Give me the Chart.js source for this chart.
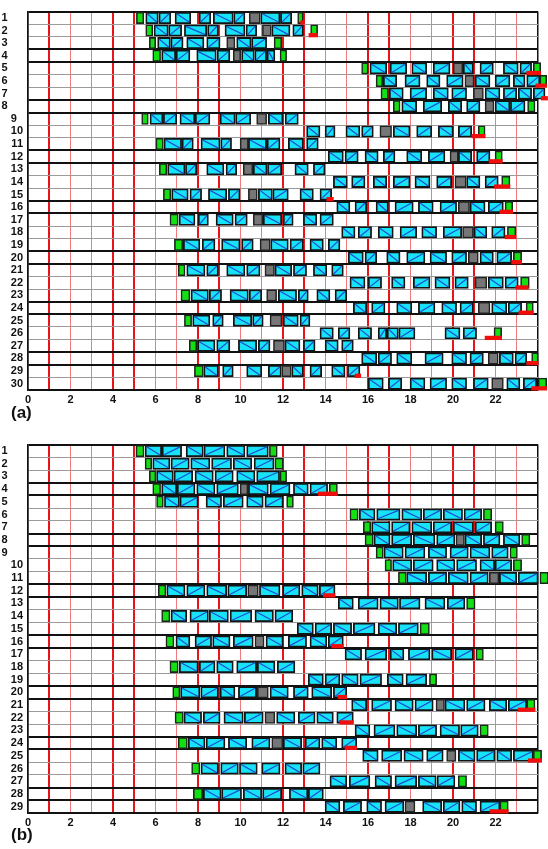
<!DOCTYPE html>
<html><head><meta charset="utf-8">
<script src="https://cdn.jsdelivr.net/npm/chart.js@4/dist/chart.umd.min.js"></script>
<style>
html,body{margin:0;padding:0;background:#fff;}
#wrap{position:relative;width:548px;height:849px;overflow:hidden;background:#fff;}
canvas{position:absolute;left:0;}
.lab{position:absolute;left:11px;font:bold 17px "Liberation Sans",Arial,sans-serif;color:#111;line-height:18px;}
</style></head><body>
<div id="wrap">
<canvas id="ca" width="548" height="408" style="top:0"></canvas>
<canvas id="cb" width="548" height="398" style="top:433px"></canvas>
<div class="lab" style="top:404px">(a)</div>
<div class="lab" style="top:826px">(b)</div>
</div>
<script>
// ---------- tick labels ----------
const rowLabelsA = ['1','2','3','4','5','6','7','8','9','10','11','12','13','14','15','16','17','18','19','20','21','22','23','24','25','26','27','28','29','30'];
const rowLabelsB = ['1','2','3','4','5','6','7','8','9','10','11','12','13','14','15','16','17','18','19','20','21','22','23','24','25','26','27','28','29'];
const xTickLabels = ['0','2','4','6','8','10','12','14','16','18','20','22'];

// ---------- panel (a): per row, pairs of [start, end] ----------
const cyanA = [
 [5.54,6.13, 6.16,6.72, 6.92,7.66, 8.05,8.6, 8.72,9.66, 9.68,10.21, 10.95,11.86, 11.88,12.41],
 [5.93,6.6, 6.62,7.23, 7.36,8.41, 8.45,8.96, 9.27,10.21, 10.26,10.76, 11.47,12.33, 12.46,12.96],
 [6.1,6.7, 6.72,7.3, 7.47,8.28, 8.41,9.04, 9.82,10.5, 10.52,11.23],
 [6.29,6.95, 6.97,7.62, 7.94,8.86, 8.9,9.5, 10.05,10.65, 10.67,11.23, 11.25,11.62],
 [16.09,16.88, 17.04,17.82, 18.06,18.76, 19.07,19.86, 20.48,20.96, 21.27,21.9, 22.37,23.07, 23.15,23.7],
 [16.72,17.35, 17.74,18.45, 18.76,19.39, 19.7,20.48, 21.04,21.74, 21.98,22.68, 22.84,23.39, 23.47,24.09],
 [17.0,17.66, 17.98,18.76, 19.07,19.78, 19.94,20.64, 21.51,22.21, 22.37,23.0, 23.07,23.7, 23.78,24.33],
 [17.59,18.29, 18.6,19.47, 19.78,20.41, 20.64,21.27, 21.98,22.68, 22.7,23.39],
 [5.74,6.35, 6.37,7.0, 7.15,7.85, 7.87,8.56, 9.04,9.75, 9.77,10.48, 11.31,12.0, 12.1,12.72],
 [13.11,13.74, 13.98,14.45, 14.96,15.62, 15.7,16.25, 17.19,17.98, 18.29,19.0, 19.31,20.01, 20.25,20.88],
 [6.4,7.23, 7.25,7.78, 8.14,9.04, 9.07,9.58, 10.37,11.23, 11.25,11.86, 12.25,12.96, 13.11,13.66],
 [14.13,14.84, 14.92,15.54, 15.86,16.48, 16.72,17.27, 17.82,18.53, 18.84,19.62, 20.25,20.88, 21.11,21.74],
 [6.57,7.39, 7.41,7.94, 8.41,9.22, 9.32,9.82, 10.6,11.25, 11.27,11.94, 12.56,13.19, 13.43,13.98],
 [14.37,15.03, 15.23,15.86, 16.25,16.88, 17.19,17.98, 18.21,18.92, 19.23,19.94, 20.64,21.27, 21.51,22.13],
 [6.76,7.54, 7.62,8.17, 8.49,9.35, 9.43,9.98, 10.84,11.5, 11.52,12.25, 12.8,13.43, 13.74,14.29],
 [14.53,15.15, 15.39,15.94, 16.38,16.96, 17.27,18.13, 18.37,19.07, 19.39,20.17, 20.8,21.51, 21.66,22.37],
 [7.11,7.86, 8.01,8.49, 8.85,9.66, 9.74,10.32, 11.07,11.94, 12.01,12.48, 12.96,13.59, 13.74,14.37],
 [14.76,15.39, 15.54,16.17, 16.48,17.19, 17.51,18.29, 18.53,19.23, 19.54,20.41, 20.99,21.59, 21.82,22.45],
 [7.31,8.09, 8.2,8.8, 9.11,9.98, 10.05,10.6, 11.42,12.25, 12.33,12.96, 13.27,13.9, 14.13,14.68],
 [15.07,15.78, 15.86,16.41, 16.88,17.51, 17.82,18.68, 18.92,19.7, 19.94,20.64, 21.27,21.9, 22.06,22.76],
 [7.47,8.33, 8.41,8.96, 9.35,10.21, 10.29,10.92, 11.62,12.41, 12.49,13.11, 13.43,14.06, 14.29,14.84],
 [15.15,15.86, 16.01,16.64, 17.11,17.74, 18.13,18.92, 19.15,19.86, 20.09,20.72, 21.66,22.37, 22.45,23.07],
 [7.67,8.49, 8.53,9.11, 9.51,10.37, 10.41,11.0, 11.78,12.64, 12.72,13.19, 13.59,14.21, 14.45,15.0],
 [15.31,15.94, 16.17,16.8, 17.35,18.06, 18.37,19.15, 19.47,20.17, 20.33,20.96, 21.82,22.53, 22.6,23.23],
 [7.75,8.56, 8.69,9.19, 9.66,10.53, 10.57,11.07, 12.01,12.72, 12.8,13.27],
 [13.74,14.37, 14.6,15.15, 15.54,16.17, 16.48,16.88, 16.9,17.43, 17.45,18.21, 19.62,20.33, 20.48,21.11],
 [7.98,8.8, 8.88,9.5, 9.9,10.76, 10.84,11.39, 12.09,12.8, 12.96,13.51, 13.98,14.6, 14.76,15.31],
 [15.7,16.41, 16.48,17.11, 17.35,18.06, 18.68,19.54, 19.94,20.64, 20.8,21.43, 22.18,22.84, 22.92,23.47],
 [8.27,8.96, 9.16,9.66, 10.29,11.0, 11.31,11.92, 12.41,12.96, 13.27,13.82, 14.29,14.92, 15.03,15.62],
 [16.01,16.72, 16.96,17.59, 17.98,18.68, 18.92,19.7, 19.94,20.64, 20.96,21.66, 22.53,23.15, 23.31,23.94]
];
const grayA = [
 [10.41,10.93],[11.03,11.45],[9.35,9.74],[9.66,10.01],[20.01,20.46],[20.56,20.99],[20.96,21.43],[21.51,21.93],
 [10.76,11.23],[16.56,17.11],[9.98,10.37],[19.86,20.25],[10.13,10.58],[20.09,20.62],[10.37,10.79],[20.25,20.78],
 [10.6,11.05],[20.45,20.96],[10.92,11.4],[20.72,21.19],[11.15,11.6],[21.04,21.59],[11.23,11.7],[21.19,21.74],
 [11.39,11.95],[],[11.55,12.07],[21.66,22.13],[11.94,12.39],[21.82,22.37]
];
const greenA = [
 [5.1,5.45, 12.69,12.95],[5.54,5.87, 13.3,13.63],[5.71,6.01, 11.58,11.94],[5.87,6.24, 11.86,12.17],
 [15.7,16.01, 23.78,24.13],[16.38,16.69, 24.09,24.41],[16.61,16.96],[17.19,17.51, 23.51,23.86],
 [5.35,5.66],[21.19,21.51],[6.02,6.37],[21.98,22.32],[6.18,6.53],[22.29,22.68],[6.37,6.72],[22.45,22.81],
 [6.68,7.07],[22.56,22.96],[6.89,7.28],[22.84,23.23],[7.07,7.39],[23.18,23.59],[7.2,7.62],[23.44,23.78],
 [7.36,7.7],[21.93,22.29],[7.59,7.94],[23.7,24.01],[7.83,8.25],[24.01,24.41]
];
const redA = [
 [12.83,13.0],[13.22,13.63],[],[],[23.47,24.13],[23.9,24.41],[24.15,24.45],[],
 [],[20.88,21.51],[],[21.7,22.32],[],[21.95,22.68],[14.06,14.37],[22.2,22.81],
 [],[22.45,22.96],[],[22.76,23.23],[],[22.96,23.54],[],[23.1,23.78],
 [],[21.51,22.29],[],[23.47,24.01],[15.39,15.66],[23.7,24.41]
];

// ---------- panel (b) ----------
const cyanB = [
 [5.51,6.29, 6.31,7.23, 7.44,8.25, 8.28,9.27, 9.35,10.21, 10.29,11.31],
 [5.87,6.68, 6.73,7.59, 7.66,8.56, 8.64,9.58, 9.66,10.53, 10.64,11.58],
 [6.05,6.84, 6.87,7.75, 7.86,8.72, 8.8,9.66, 9.82,10.68, 10.76,11.84],
 [6.29,7.0, 7.02,7.86, 7.94,8.8, 8.88,9.9, 10.37,11.31, 11.39,12.33, 12.49,13.19, 13.27,14.1],
 [6.42,7.13, 7.15,8.01, 8.38,9.11, 9.19,10.13, 10.29,11.07, 11.15,12.01],
 [15.59,16.33, 16.41,17.51, 17.59,18.53, 18.6,19.47, 19.54,20.45, 20.52,21.35],
 [16.17,17.04, 17.11,17.98, 18.06,19.0, 19.07,19.94, 20.01,20.96, 21.04,21.82],
 [16.28,17.04, 17.11,18.06, 18.13,19.15, 19.23,20.09, 20.56,21.35, 21.43,22.21, 22.37,23.15],
 [16.75,17.66, 17.74,18.68, 18.84,19.7, 19.86,20.72, 20.8,21.74, 21.82,22.6],
 [17.16,18.06, 18.13,19.07, 19.23,20.09, 20.17,21.11, 21.27,21.96, 21.98,22.76],
 [17.82,18.76, 18.84,19.7, 19.78,20.72, 20.8,21.66, 22.18,23.0, 23.07,24.01],
 [6.53,7.39, 7.47,8.33, 8.41,9.35, 9.4,10.29, 10.89,11.86, 11.98,12.8, 12.88,13.66, 13.71,14.45],
 [14.6,15.31, 15.54,16.48, 16.56,17.43, 17.48,18.45, 18.68,19.62, 19.73,20.56],
 [6.73,7.47, 7.62,8.49, 8.53,9.43, 9.51,10.53, 10.68,11.55, 11.62,12.46],
 [12.67,13.43, 13.51,14.29, 14.37,15.23, 15.31,16.33, 16.48,17.35, 17.43,18.37],
 [6.96,7.62, 7.86,8.64, 8.69,9.51, 9.66,10.6, 11.2,12.01, 12.25,13.11, 13.27,14.06, 14.13,14.84],
 [14.92,15.7, 15.86,16.88, 17.04,17.69, 17.9,18.92, 19.0,19.94, 20.09,20.96],
 [7.12,8.01, 8.06,8.8, 8.88,9.66, 9.82,10.76, 10.79,11.62, 11.73,12.56],
 [13.19,13.9, 13.98,14.68, 14.76,15.54, 15.62,16.64, 16.91,17.66, 17.79,18.76],
 [7.18,8.09, 8.13,8.96, 9.04,9.74, 9.9,10.76, 11.39,12.25, 12.49,13.19, 13.35,14.29, 14.37,15.0],
 [15.23,15.94, 16.17,17.11, 17.27,18.13, 18.21,19.07, 19.62,20.56, 20.64,21.51, 21.71,22.53, 22.6,23.47],
 [7.34,8.17, 8.25,9.04, 9.22,10.13, 10.18,11.07, 11.7,12.56, 12.72,13.51, 13.59,14.37, 14.53,15.31],
 [15.39,16.09, 16.28,17.27, 17.35,18.29, 18.37,19.23, 19.39,20.31, 20.36,21.19],
 [7.54,8.33, 8.38,9.27, 9.43,10.29, 10.53,11.39, 12.01,12.88, 13.04,13.74, 13.82,14.53, 14.76,15.47],
 [15.75,16.48, 16.64,17.59, 17.69,18.6, 18.76,19.54, 20.25,21.04, 21.11,21.98, 22.06,22.76, 22.84,23.78],
 [8.14,8.96, 9.07,9.9, 9.95,10.79, 11.0,11.86, 12.09,12.88, 12.93,13.74],
 [14.21,15.0, 15.12,16.09, 16.33,17.11, 17.27,18.29, 18.37,19.21, 19.25,20.09],
 [8.25,9.09, 9.11,10.05, 10.13,11.0, 11.04,11.94, 12.3,13.17, 13.19,13.9],
 [13.98,14.68, 14.84,15.7, 15.94,16.64, 16.8,17.69, 18.57,19.47, 19.54,20.33, 20.41,21.11, 21.27,22.21]
];
const grayB = [
 [],[],[],[9.98,10.35],[],[],[],[20.14,20.54],[],[],[21.71,22.16],[10.34,10.84],[],[],[],
 [10.68,11.11],[],[],[],[10.79,11.31],[19.2,19.6],[11.15,11.62],[],[11.47,11.99],[19.7,20.14],[],[],[],[17.74,18.21]
];
const greenB = [
 [5.08,5.46, 11.36,11.73],[5.51,5.82, 11.62,12.01],[5.71,6.02, 11.86,12.17],[5.87,6.24, 14.18,14.56],
 [6.05,6.37, 12.17,12.49],[15.15,15.54, 21.43,21.82],[15.78,16.13, 21.98,22.37],[15.86,16.25, 23.23,23.62],
 [16.38,16.72, 22.68,23.03],[16.8,17.11, 22.84,23.23],[17.43,17.8, 24.09,24.48],
 [6.13,6.49],[20.64,21.04],[6.29,6.68],[18.45,18.89],[6.49,6.87],[21.08,21.43],[6.68,7.07],[18.89,19.23],
 [6.81,7.15],[23.47,23.86],[6.92,7.31],[21.27,21.66],[7.07,7.5],[23.78,24.17],[7.7,8.09],[20.25,20.64],
 [7.78,8.22],[22.21,22.6]
];
const redB = [
 [],[],[],[13.66,14.56],[],[],[],[],[],[],[],[13.9,14.45],[],[],[],[14.29,14.84],[],[],[],
 [14.59,15.0],[23.07,23.86],[14.68,15.31],[],[14.92,15.47],[23.54,24.17],[],[],[],[21.74,22.6]
];

// ---------- drawing ----------
const FONT = '"Liberation Sans", Arial, sans-serif';
Chart.defaults.font.family = FONT;

function pairs(rows, yFn) {
  const out = [];
  rows.forEach((arr, r) => {
    for (let i = 0; i + 1 < arr.length; i += 2) out.push({x: [arr[i], arr[i + 1]], y: yFn(r), d: (i / 2) % 2});
  });
  return out;
}

const diagPlugin = {
  id: 'diag',
  afterDatasetDraw(chart, args) {
    const ds = chart.data.datasets[args.index];
    if (!ds.diag) return;
    const ctx = chart.ctx;
    ctx.save();
    ctx.strokeStyle = '#1a4fd2';
    ctx.lineWidth = 1.2;
    args.meta.data.forEach((el, j) => {
      const p = el.getProps(['x', 'y', 'base', 'height'], true);
      const l = Math.min(p.x, p.base) + 1.6, r = Math.max(p.x, p.base) - 1.6;
      const t = p.y - p.height / 2 + 1.6, b = p.y + p.height / 2 - 1.6;
      ctx.beginPath();
      if (ds.data[j].d === 0) { ctx.moveTo(l, t); ctx.lineTo(r, b); }
      else { ctx.moveTo(l, b); ctx.lineTo(r, t); }
      ctx.stroke();
    });
    ctx.restore();
  }
};

function thickX(v) { return v === 1 || v % 4 === 0 || v % 4 === 1; }
function thickY(i) { return i === undefined || i === 0 || i % 4 === 0 || i % 4 === 3; }

// single-digit row labels sit at the far left in the reference; pad them with trailing spaces
function rowLabel(lbl, leftMax) {
  const n = Number(lbl);
  if (n <= leftMax) return lbl + '     ';
  if (n < 10) return lbl + '  ';
  return lbl;
}

function makeChart(id, labels, cyan, gray, green, red, leftMax) {
  const n = labels.length;
  const cat = r => labels[r];
  return new Chart(document.getElementById(id), {
    type: 'bar',
    data: {
      labels: labels,
      datasets: [
        {label: 'red', data: pairs(red, r => r + 1.37), yAxisID: 'yR', backgroundColor: '#f20d0d', borderWidth: 0, barThickness: 3.6, order: 0},
        {label: 'green', data: pairs(green, cat), yAxisID: 'y', backgroundColor: '#12e012', borderColor: '#1c261c', borderWidth: 1.6, order: 1},
        {label: 'gray', data: pairs(gray, cat), yAxisID: 'y', backgroundColor: '#767676', borderColor: '#222', borderWidth: 1.6, order: 2},
        {label: 'cyan', data: pairs(cyan, cat), yAxisID: 'y', backgroundColor: '#18e2f8', borderColor: '#141414', borderWidth: 1.8, order: 3, diag: true}
      ]
    },
    options: {
      indexAxis: 'y',
      responsive: false,
      animation: false,
      devicePixelRatio: 1,
      layout: {padding: {top: 10, right: 10, left: 0, bottom: 0}},
      datasets: {bar: {grouped: false, clip: false, borderSkipped: false, barThickness: 11.4}},
      plugins: {legend: {display: false}, tooltip: {enabled: false}},
      scales: {
        x: {
          type: 'linear', min: 0, max: 24, position: 'bottom',
          afterFit: s => { s.height = 18; },
          border: {display: true, color: '#111', width: 1.5},
          grid: {
            drawTicks: false,
            color: c => { const v = c.tick ? c.tick.value : 0; if (v === 0 || v === 24) return '#111'; return thickX(v) ? '#e8141a' : '#f27a7a'; },
            lineWidth: c => { const v = c.tick ? c.tick.value : 0; if (v === 0 || v === 24) return 1.5; return thickX(v) ? 2 : 1; }
          },
          ticks: {
            stepSize: 1, autoSkip: false, maxRotation: 0, padding: 3, color: '#111',
            font: {size: 11, weight: 'bold'},
            callback: v => xTickLabels.includes(String(v)) ? String(v) : ''
          }
        },
        y: {
          type: 'category', labels: labels, offset: true, position: 'left',
          afterFit: s => { s.width = 28; },
          border: {display: true, color: '#111', width: 1.5},
          grid: {
            offset: true, drawTicks: false,
            color: c => thickY(c.index) ? '#111' : '#9a9a9a',
            lineWidth: c => thickY(c.index) ? 2 : 1
          },
          ticks: {padding: 5, color: '#111', font: {size: 11, weight: 'bold'}, autoSkip: false,
                  callback: (v, i) => rowLabel(labels[i], leftMax)}
        },
        yR: {type: 'linear', display: false, offset: false, grid: {offset: false}, min: 0.5, max: n + 0.5, reverse: true}
      }
    },
    plugins: [diagPlugin]
  });
}

makeChart('ca', rowLabelsA, cyanA, grayA, greenA, redA, 8);
makeChart('cb', rowLabelsB, cyanB, grayB, greenB, redB, 9);
</script>
</body></html>
